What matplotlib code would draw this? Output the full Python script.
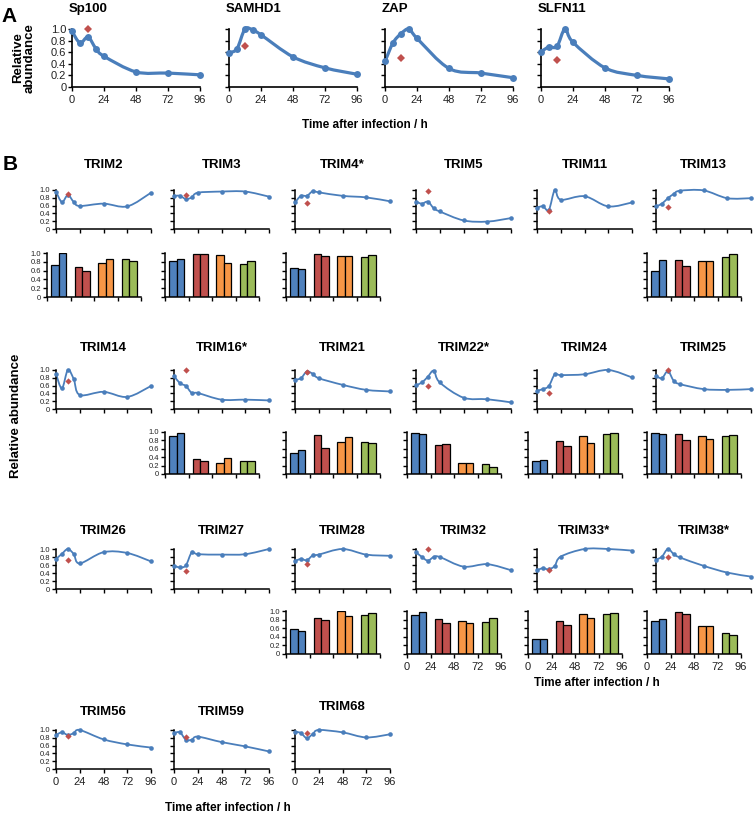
import matplotlib
matplotlib.use('Agg')
import matplotlib.pyplot as plt
import numpy as np
from matplotlib.path import Path
from matplotlib.patches import PathPatch

plt.rcParams['font.family'] = ['Liberation Sans', 'DejaVu Sans']

# sampling times (h) and the time of the red reference point
TIMES = [0, 6, 12, 18, 24, 48, 72, 96]
RED_TIME = 12
BAR_TICKS = [0, 24, 48, 72, 96]

# Panel A
A_NAMES = ['Sp100', 'SAMHD1', 'ZAP', 'SLFN11']
A_LINES = [
    [0.96, 0.76, 0.86, 0.66, 0.53, 0.26, 0.24, 0.21],
    [0.59, 0.66, 1.00, 0.98, 0.90, 0.52, 0.33, 0.22],
    [0.44, 0.76, 0.92, 1.00, 0.84, 0.32, 0.24, 0.16],
    [0.61, 0.69, 0.70, 1.00, 0.77, 0.33, 0.20, 0.14],
]
A_RED = [1.00, 0.71, 0.50, 0.47]

# Panel B, row by row (None = empty slot)
B_NAMES = [
    ['TRIM2', 'TRIM3', 'TRIM4*', 'TRIM5', 'TRIM11', 'TRIM13'],
    ['TRIM14', 'TRIM16*', 'TRIM21', 'TRIM22*', 'TRIM24', 'TRIM25'],
    ['TRIM26', 'TRIM27', 'TRIM28', 'TRIM32', 'TRIM33*', 'TRIM38*'],
    ['TRIM56', 'TRIM59', 'TRIM68'],
]
B_LINES = {
    'TRIM2': [0.96, 0.69, 0.87, 0.69, 0.59, 0.65, 0.58, 0.93],
    'TRIM3': [0.85, 0.85, 0.77, 0.81, 0.93, 0.96, 0.96, 0.83],
    'TRIM4*': [0.68, 0.85, 0.85, 0.97, 0.94, 0.85, 0.81, 0.71],
    'TRIM5': [0.70, 0.65, 0.70, 0.53, 0.45, 0.22, 0.19, 0.28],
    'TRIM11': [0.55, 0.58, 0.49, 1.00, 0.75, 0.84, 0.58, 0.68],
    'TRIM13': [0.58, 0.65, 0.79, 0.90, 0.98, 0.99, 0.79, 0.79],
    'TRIM14': [0.90, 0.53, 1.00, 0.76, 0.36, 0.44, 0.31, 0.59],
    'TRIM16*': [0.85, 0.66, 0.59, 0.41, 0.41, 0.24, 0.24, 0.22],
    'TRIM21': [0.75, 0.79, 0.96, 0.90, 0.79, 0.62, 0.49, 0.45],
    'TRIM22*': [0.61, 0.68, 0.83, 0.98, 0.68, 0.29, 0.25, 0.17],
    'TRIM24': [0.47, 0.51, 0.59, 0.89, 0.87, 0.89, 1.00, 0.81],
    'TRIM25': [0.85, 0.79, 0.97, 0.72, 0.64, 0.51, 0.49, 0.51],
    'TRIM26': [0.75, 0.88, 1.00, 0.87, 0.64, 0.92, 0.90, 0.69],
    'TRIM27': [0.58, 0.54, 0.59, 0.92, 0.87, 0.86, 0.87, 1.00],
    'TRIM28': [0.70, 0.75, 0.72, 0.84, 0.86, 1.00, 0.86, 0.83],
    'TRIM32': [0.92, 0.80, 0.71, 0.80, 0.80, 0.56, 0.62, 0.47],
    'TRIM33*': [0.47, 0.52, 0.49, 0.58, 0.81, 1.00, 1.00, 0.96],
    'TRIM38*': [0.73, 0.81, 1.00, 0.87, 0.79, 0.58, 0.41, 0.31],
    'TRIM56': [0.87, 0.94, 0.87, 0.92, 1.00, 0.76, 0.63, 0.55],
    'TRIM59': [0.92, 0.94, 0.75, 0.75, 0.83, 0.69, 0.58, 0.45],
    'TRIM68': [0.96, 0.92, 0.79, 0.90, 1.00, 0.94, 0.81, 0.89],
}
B_RED = {
    'TRIM2': 0.90, 'TRIM3': 0.87, 'TRIM4*': 0.66, 'TRIM5': 0.97,
    'TRIM11': 0.47, 'TRIM13': 0.57, 'TRIM14': 0.72, 'TRIM16*': 1.00,
    'TRIM21': 0.94, 'TRIM22*': 0.60, 'TRIM24': 0.40, 'TRIM25': 1.00,
    'TRIM26': 0.72, 'TRIM27': 0.45, 'TRIM28': 0.62, 'TRIM32': 1.00,
    'TRIM33*': 0.47, 'TRIM38*': 0.81, 'TRIM56': 0.85, 'TRIM59': 0.81,
    'TRIM68': 0.92,
}
# two bars per colour group (blue, red, orange, green)
B_BARS = {
    'TRIM2': [0.73, 1.00, 0.68, 0.60, 0.78, 0.86, 0.86, 0.82],
    'TRIM3': [0.81, 0.86, 0.98, 0.98, 0.96, 0.78, 0.74, 0.82],
    'TRIM4*': [0.67, 0.64, 0.98, 0.94, 0.94, 0.93, 0.92, 0.95],
    'TRIM13': [0.59, 0.85, 0.83, 0.71, 0.81, 0.81, 0.92, 0.98],
    'TRIM16*': [0.90, 0.98, 0.35, 0.32, 0.27, 0.38, 0.30, 0.30],
    'TRIM21': [0.51, 0.57, 0.94, 0.63, 0.76, 0.89, 0.77, 0.73],
    'TRIM22*': [0.98, 0.95, 0.69, 0.71, 0.27, 0.27, 0.23, 0.16],
    'TRIM24': [0.32, 0.34, 0.78, 0.67, 0.90, 0.75, 0.95, 0.98],
    'TRIM25': [0.98, 0.95, 0.96, 0.81, 0.91, 0.83, 0.91, 0.94],
    'TRIM28': [0.59, 0.54, 0.84, 0.80, 0.99, 0.88, 0.90, 0.95],
    'TRIM32': [0.91, 0.98, 0.81, 0.72, 0.77, 0.71, 0.75, 0.83],
    'TRIM33*': [0.34, 0.34, 0.76, 0.68, 0.94, 0.83, 0.92, 0.96],
    'TRIM38*': [0.77, 0.81, 0.98, 0.92, 0.66, 0.66, 0.48, 0.45],
}

Y_TICKS = [0, 0.2, 0.4, 0.6, 0.8, 1.0]
Y_LABELS = ['0', '0.2', '0.4', '0.6', '0.8', '1.0']

LINE_BLUE = '#4a7ebb'
RED = '#c0504d'
BAR_COLORS = ['#4f81bd', '#c0504d', '#f79646', '#9bbb59']

W, H = 756, 817

# pixel layout
A_LEFTS = [72, 229, 385, 541]
B_LEFTS = [56, 174, 295, 416, 537, 656]
B_LINE_ROWS = [(190, 229), (370, 409), (549, 589), (730, 769)]
B_BAR_ROWS = [(253, 297), (432, 474), (611, 654)]
B_TITLE_Y = [165, 348, 531, 712]


def rect(left, top, width, height):
    return [left / W, 1 - (top + height) / H, width / W, height / H]


def smooth_path(x, y):
    pts = np.column_stack([x, y]).astype(float)
    n = len(pts)
    verts = [pts[0]]
    codes = [Path.MOVETO]
    for i in range(n - 1):
        p0 = pts[max(i - 1, 0)]
        p1 = pts[i]
        p2 = pts[i + 1]
        p3 = pts[min(i + 2, n - 1)]
        verts += [p1 + (p2 - p0) / 6, p2 - (p3 - p1) / 6, p2]
        codes += [Path.CURVE4] * 3
    return Path(verts, codes)


def style(ax, xticks, ylabels, xlabels, tick_size, lw=1.1):
    for side in ('top', 'right'):
        ax.spines[side].set_visible(False)
    for side in ('left', 'bottom'):
        ax.spines[side].set_linewidth(lw)
    ax.set_ylim(0, 1)
    ax.set_xlim(0, 96)
    ax.set_yticks(Y_TICKS)
    ax.set_xticks(xticks)
    ax.set_yticklabels(Y_LABELS if ylabels else [])
    ax.set_xticklabels([str(t) for t in xticks] if xlabels else [])
    ax.tick_params(direction='out', length=2.6, width=1.0, colors='black')
    ax.tick_params(axis='y', labelsize=tick_size[0], pad=1.5, labelcolor='#222222')
    ax.tick_params(axis='x', labelsize=tick_size[1], pad=3.5, labelcolor='#222222')


def draw_line(ax, values, red, lw, ms, red_ms):
    ax.add_patch(PathPatch(smooth_path(TIMES, values), facecolor='none',
                           edgecolor=LINE_BLUE, lw=lw, clip_on=False,
                           capstyle='round', joinstyle='round'))
    ax.plot(TIMES, values, 'o', color=LINE_BLUE, ms=ms, mew=0,
            clip_on=False, zorder=3)
    ax.plot([RED_TIME], [red], 'D', color=RED, ms=red_ms, mew=0,
            clip_on=False, zorder=4)


def draw_bars(ax, values):
    centers = np.arange(4) * 24 + 12
    first = values[0::2]
    second = values[1::2]
    ax.bar(centers - 3.75, first, width=7.5, color=BAR_COLORS,
           edgecolor='black', lw=0.9)
    ax.bar(centers + 3.75, second, width=7.5, color=BAR_COLORS,
           edgecolor='black', lw=0.9)


fig = plt.figure(figsize=(W / 100, H / 100), dpi=100)

# ---- panel A
for i, name in enumerate(A_NAMES):
    ax = fig.add_axes(rect(A_LEFTS[i], 29, 128, 58))
    draw_line(ax, A_LINES[i], A_RED[i], lw=2.3, ms=5.0, red_ms=4.0)
    style(ax, BAR_TICKS, i == 0, True, (8, 8), lw=1.2)
    fig.text((A_LEFTS[i] - 3) / W, 1 - 9 / H, name, ha='left', va='center',
             fontsize=9.5, fontweight='bold')

fig.text(9 / W, 1 - 16 / H, 'A', fontsize=15, fontweight='bold',
         ha='center', va='center')
fig.text(24 / W, 1 - 58 / H, 'Relative\nabundance', rotation=90,
         fontsize=9.5, fontweight='bold', ha='center', va='center',
         linespacing=1.0)
fig.text(365 / W, 1 - 125 / H, 'Time after infection / h', fontsize=8.5,
         fontweight='bold', ha='center', va='center')

# ---- panel B
for r, names in enumerate(B_NAMES):
    top, bottom = B_LINE_ROWS[r]
    first_bar = True
    for c, name in enumerate(names):
        left = B_LEFTS[c]
        ax = fig.add_axes(rect(left, top, 95, bottom - top))
        draw_line(ax, B_LINES[name], B_RED[name], lw=1.3, ms=3.3, red_ms=3.2)
        style(ax, BAR_TICKS, c == 0, r == 3, (5.5, 8))
        ty = B_TITLE_Y[r] - (5 if name == 'TRIM68' else 0)
        fig.text((left + 47.5) / W, 1 - ty / H, name, ha='center',
                 va='center', fontsize=9.5, fontweight='bold')
        if name in B_BARS:
            btop, bbottom = B_BAR_ROWS[r]
            bax = fig.add_axes(rect(left - 9, btop, 94, bbottom - btop))
            draw_bars(bax, B_BARS[name])
            style(bax, BAR_TICKS, first_bar, r == 2 and c > 2, (5.5, 8))
            first_bar = False

fig.text(10 / W, 1 - 164 / H, 'B', fontsize=15, fontweight='bold',
         ha='center', va='center')
fig.text(16 / W, 1 - 416 / H, 'Relative abundance', rotation=90,
         fontsize=9.5, fontweight='bold', ha='center', va='center')
fig.text(597 / W, 1 - 683 / H, 'Time after infection / h', fontsize=8.5,
         fontweight='bold', ha='center', va='center')
fig.text(228 / W, 1 - 808 / H, 'Time after infection / h', fontsize=8.5,
         fontweight='bold', ha='center', va='center')

fig.savefig('out.png', dpi=100)
